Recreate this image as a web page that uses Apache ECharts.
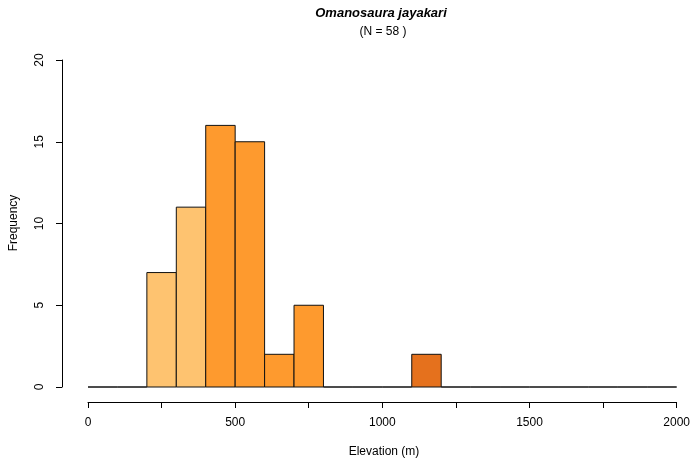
<!DOCTYPE html>
<html>
<head>
<meta charset="utf-8">
<script src="https://cdn.jsdelivr.net/npm/echarts@6/dist/echarts.min.js"></script>
<style>
html,body{margin:0;padding:0;background:#fff;}
#chart{width:693px;height:462px;}
</style>
</head>
<body>
<div id="chart"></div>
<script>
// ---- data ----
const binStarts = [0,100,200,300,400,500,600,700,800,900,1000,1100,1200,1300,1400,1500,1600,1700,1800,1900];
const binEnds   = [100,200,300,400,500,600,700,800,900,1000,1100,1200,1300,1400,1500,1600,1700,1800,1900,2000];
const counts    = [0,0,7,11,16,15,2,5,0,0,0,2,0,0,0,0,0,0,0,0];
const xTicks = [0,500,1000,1500,2000];
const yTicks = [0,5,10,15,20];
const titleText = 'Omanosaura jayakari';
const subtitleText = '(N = 58 )';
const xName = 'Elevation (m)';
const yName = 'Frequency';

// ---- style ----
function binColor(start){
  if (start < 400) return '#FEC370';
  if (start < 1000) return '#FE9A2E';
  return '#E5711D';
}
const FONT = '"Liberation Sans", Arial, Helvetica, sans-serif';

const seriesData = binStarts.map((s,i)=>[s, binEnds[i], counts[i]]);

const chart = echarts.init(document.getElementById('chart'));
chart.setOption({
  animation:false,
  backgroundColor:'#fff',
  graphic:[
    {type:'text', x:381, y:13,
     style:{text:titleText, fontFamily:FONT, fontSize:13, fontWeight:'bold', fontStyle:'italic', fill:'#000', textAlign:'center', textVerticalAlign:'middle'}},
    {type:'text', x:383, y:32,
     style:{text:subtitleText, fontFamily:FONT, fontSize:12, fill:'#000', textAlign:'center', textVerticalAlign:'middle'}},
    {type:'text', x:384, y:452,
     style:{text:xName, fontFamily:FONT, fontSize:12, fill:'#000', textAlign:'center', textVerticalAlign:'middle'}},
    {type:'text', x:14, y:223, rotation:Math.PI/2,
     style:{text:yName, fontFamily:FONT, fontSize:12, fill:'#000', textAlign:'center', textVerticalAlign:'middle'}}
  ],
  grid:{left:88, right:13, top:60, bottom:75},
  xAxis:{type:'value', min:0, max:2000, interval:250, offset:15,
    axisLine:{show:true, onZero:false, lineStyle:{color:'#000', width:1}},
    axisTick:{show:true, length:6, lineStyle:{color:'#000'}},
    axisLabel:{margin:15, fontFamily:FONT, fontSize:12, color:'#000',
      formatter:v=> xTicks.indexOf(v)>=0 ? String(v) : ''},
    splitLine:{show:false}},
  yAxis:{type:'value', min:0, max:20, interval:5, offset:26,
    axisLine:{show:true, onZero:false, lineStyle:{color:'#000', width:1}},
    axisTick:{show:true, length:6, lineStyle:{color:'#000'}},
    axisLabel:{margin:16, rotate:90, fontFamily:FONT, fontSize:12, color:'#000',
      formatter:v=> yTicks.indexOf(v)>=0 ? String(v) : ''},
    splitLine:{show:false}},
  series:[{
    type:'custom',
    data:seriesData,
    encode:{x:[0,1], y:2},
    renderItem:function(params, api){
      const x0 = api.value(0), x1 = api.value(1), y = api.value(2);
      const p0 = api.coord([x0, y]);
      const p1 = api.coord([x1, 0]);
      return {type:'rect',
        shape:{x:p0[0], y:p0[1], width:p1[0]-p0[0], height:p1[1]-p0[1]},
        style:{fill:binColor(x0), stroke:'#111', lineWidth:1}};
    }
  }]
});
</script>
</body>
</html>
